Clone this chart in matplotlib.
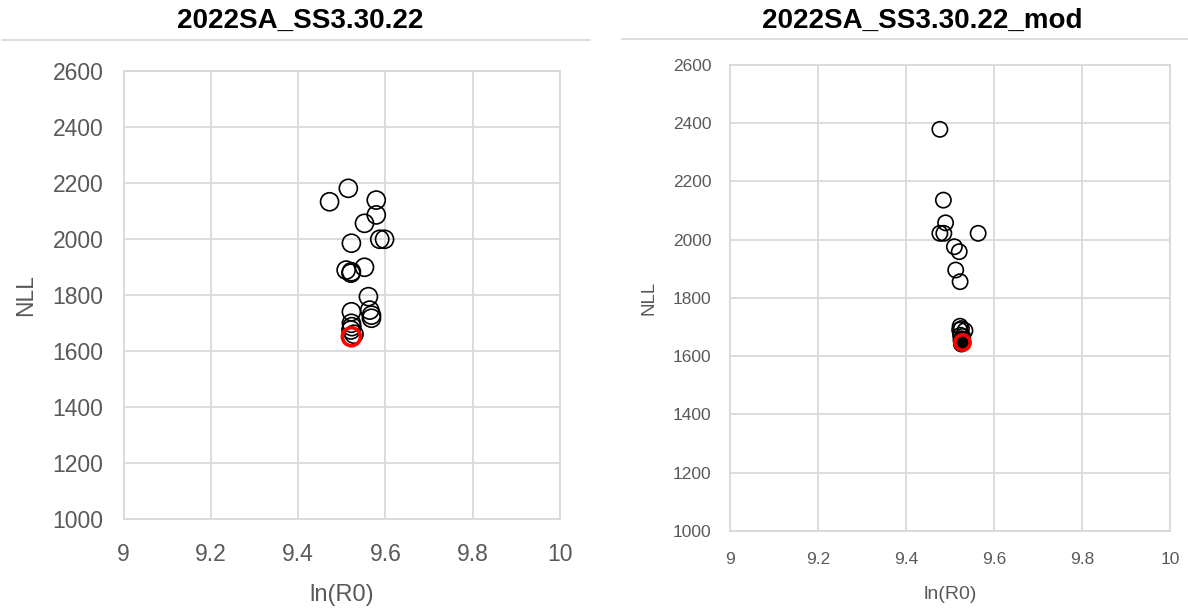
import matplotlib.pyplot as plt
from matplotlib.lines import Line2D

# Data
left_title = "2022SA_SS3.30.22"
left_lnr0 = [9.472, 9.515, 9.579, 9.579, 9.552, 9.522, 9.587, 9.598, 9.510, 9.522,
             9.521, 9.552, 9.561, 9.564, 9.568, 9.568, 9.522, 9.522, 9.523, 9.521, 9.528]
left_nll = [2133, 2181, 2139, 2086, 2056, 1985, 1999, 1999, 1889, 1883,
            1878, 1899, 1794, 1746, 1728, 1717, 1740, 1699, 1687, 1675, 1660]
left_best = (9.522, 1651)

right_title = "2022SA_SS3.30.22_mod"
right_lnr0 = [9.477, 9.485, 9.490, 9.477, 9.486, 9.564, 9.510, 9.521, 9.513, 9.523,
              9.523, 9.526, 9.534, 9.522, 9.527, 9.527, 9.526, 9.524, 9.529, 9.525,
              9.528, 9.526]
right_nll = [2379, 2136, 2058, 2022, 2022, 2022, 1976, 1959, 1896, 1856,
             1703, 1695, 1688, 1690, 1660, 1650, 1645, 1672, 1668, 1655,
             1648, 1642]
right_best = (9.527, 1648)

x_ticks = [9, 9.2, 9.4, 9.6, 9.8, 10]
y_ticks = [1000, 1200, 1400, 1600, 1800, 2000, 2200, 2400, 2600]

grid_col = "#d9d9d9"
text_col = "#595959"
font = "Liberation Sans"


def draw_panel(ax, xs, ys, best, tick_size, ms, pad_x, pad_y, best_face="none"):
    ax.scatter(xs, ys, s=ms ** 2, facecolors="none", edgecolors="black", linewidths=1.2, zorder=3)
    ax.scatter([best[0]], [best[1]], s=ms ** 2, facecolors=best_face, edgecolors="#ff0000",
               linewidths=2.6, zorder=4)
    ax.set_xlim(9, 10)
    ax.set_ylim(1000, 2600)
    ax.set_xticks(x_ticks)
    ax.set_yticks(y_ticks)
    ax.set_xticklabels(["9", "9.2", "9.4", "9.6", "9.8", "10"])
    ax.grid(True, color=grid_col, linewidth=1.3)
    ax.set_axisbelow(True)
    for s in ax.spines.values():
        s.set_color(grid_col)
        s.set_linewidth(1.3)
    ax.tick_params(length=0, labelsize=tick_size, labelcolor=text_col)
    ax.tick_params(axis="x", pad=pad_x)
    ax.tick_params(axis="y", pad=pad_y)
    for lab in ax.get_xticklabels() + ax.get_yticklabels():
        lab.set_family(font)


fig = plt.figure(figsize=(11.88, 6.09), dpi=100)

ax1 = fig.add_axes([0.104, 0.1478, 0.3674, 0.7356])
draw_panel(ax1, left_lnr0, left_nll, left_best, 16.5, 13, 17, 14.5)
ax1.set_xlabel("ln(R0)", family=font, fontsize=17, color=text_col, labelpad=13)
ax1.set_ylabel("NLL", family=font, fontsize=16.5, color=text_col, labelpad=11)

ax2 = fig.add_axes([0.6145, 0.1281, 0.3703, 0.7652])
draw_panel(ax2, right_lnr0, right_nll, right_best, 12.5, 11, 15, 13.5, best_face="black")
ax2.set_xlabel("ln(R0)", family=font, fontsize=14, color=text_col, labelpad=14)
ax2.set_ylabel("NLL", family=font, fontsize=13.5, color=text_col, labelpad=11)

fig.text(300 / 1188, 1 - 21 / 609, left_title, ha="center", va="center",
         family=font, fontweight="bold", fontsize=20)
fig.text(922 / 1188, 1 - 21 / 609, right_title, ha="center", va="center",
         family=font, fontweight="bold", fontsize=20)

# separator lines under the titles
fig.add_artist(Line2D([2 / 1188, 590 / 1188], [1 - 40 / 609] * 2, color=grid_col, linewidth=1.3))
fig.add_artist(Line2D([622 / 1188, 1188 / 1188], [1 - 39 / 609] * 2, color=grid_col, linewidth=1.3))

fig.savefig("out.png", dpi=100)
